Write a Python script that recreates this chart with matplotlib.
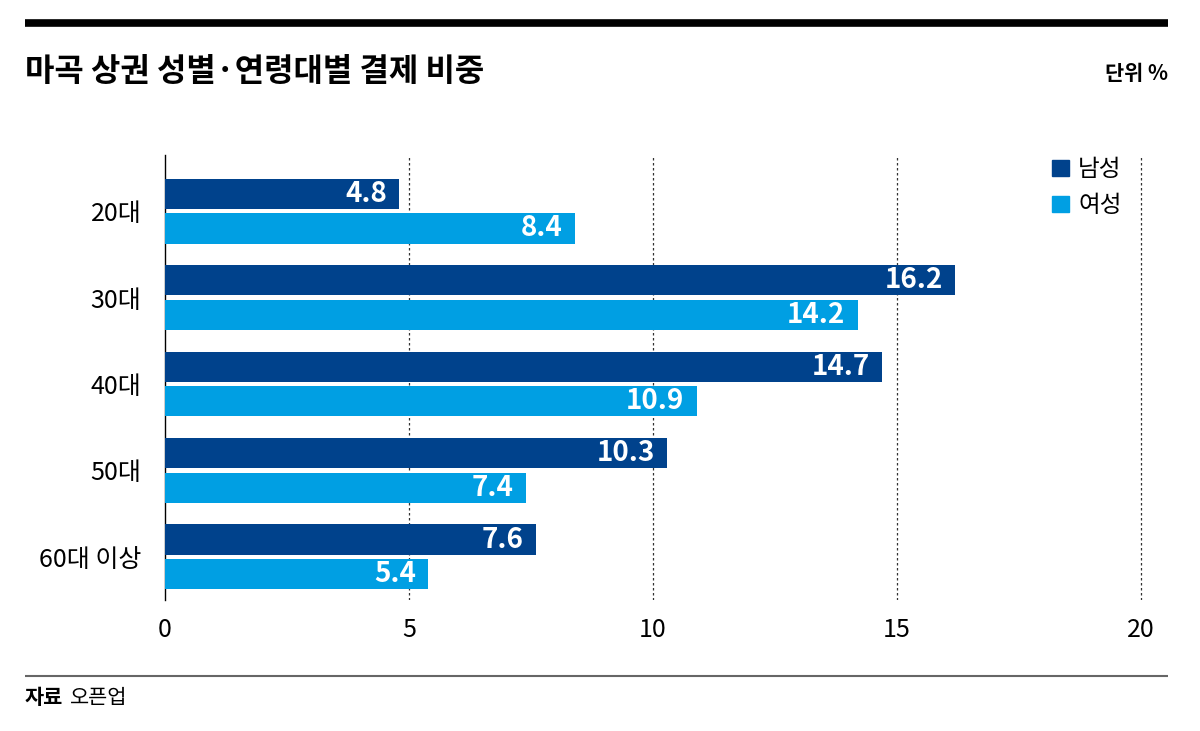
import numpy as np
import matplotlib
matplotlib.use("Agg")
import matplotlib.pyplot as plt
from matplotlib.lines import Line2D
from matplotlib.patches import Patch

plt.rcParams['font.family'] = ['Noto Sans CJK KR', 'DejaVu Sans']

# ---- data -------------------------------------------------------------------
ages = ["20대", "30대", "40대", "50대", "60대 이상"]
male = [4.8, 16.2, 14.7, 10.3, 7.6]
female = [8.4, 14.2, 10.9, 7.4, 5.4]
xticks = [0, 5, 10, 15, 20]

C_MALE = "#00428c"
C_FEMALE = "#009fe3"

fig = plt.figure(figsize=(12, 7.31), dpi=100)
ax = fig.add_axes([165 / 1200, 1 - 600 / 731, 978 / 1200, 445 / 731])

y = np.arange(len(ages))
h = 0.35
off = h / 2 + 0.025
ax.barh(y - off, male, height=h, color=C_MALE, label="남성", zorder=3)
ax.barh(y + off, female, height=h, color=C_FEMALE, label="여성", zorder=3)

for yi, v in zip(y - off, male):
    ax.text(v - 0.25, yi, f"{v:.1f}", ha="right", va="center", color="white",
            fontsize=20, fontweight="bold", zorder=4)
for yi, v in zip(y + off, female):
    ax.text(v - 0.25, yi, f"{v:.1f}", ha="right", va="center", color="white",
            fontsize=20, fontweight="bold", zorder=4)

ax.set_xlim(0, 20.05)
ax.set_ylim(4.5, -0.65)
ax.set_yticks(y)
ax.set_yticklabels(ages, fontsize=18)
ax.set_xticks(xticks)
ax.set_xticklabels([str(t) for t in xticks], fontsize=18)
ax.tick_params(axis="y", length=0, pad=17)
ax.tick_params(axis="x", length=0, pad=12)
for s in ["top", "right", "bottom"]:
    ax.spines[s].set_visible(False)
ax.spines["left"].set_color("black")
ax.spines["left"].set_linewidth(1.0)
for t in xticks[1:]:
    ax.axvline(t, color="#333333", lw=0.9, ls=(0, (2, 2)), zorder=1)

handles = [Patch(color=C_MALE, label="남성"), Patch(color=C_FEMALE, label="여성")]
ax.legend(handles=handles, loc="upper right", bbox_to_anchor=(1.0, 1.04),
          frameon=False, fontsize=17, handlelength=0.7, handleheight=0.7,
          handletextpad=0.4, labelspacing=0.55)

# ---- frame decorations ------------------------------------------------------
fig.add_artist(Line2D([25 / 1200, 1168 / 1200], [1 - 23 / 731] * 2,
                      color="black", lw=5.5, solid_capstyle="butt"))
fig.text(25 / 1200, 1 - 72 / 731, "마곡 상권 성별·연령대별 결제 비중",
         fontsize=23, fontweight="bold", va="center", ha="left")
fig.text(1168 / 1200, 1 - 74 / 731, "단위 %", fontsize=15, fontweight="bold",
         va="center", ha="right")
fig.add_artist(Line2D([25 / 1200, 1168 / 1200], [1 - 676 / 731] * 2,
                      color="#666666", lw=1.5, solid_capstyle="butt"))
fig.text(25 / 1200, 1 - 698 / 731, "자료", fontsize=15, fontweight="bold",
         va="center", ha="left")
fig.text(70 / 1200, 1 - 698 / 731, "오픈업", fontsize=15, va="center", ha="left")

fig.savefig("out.png", dpi=100)
